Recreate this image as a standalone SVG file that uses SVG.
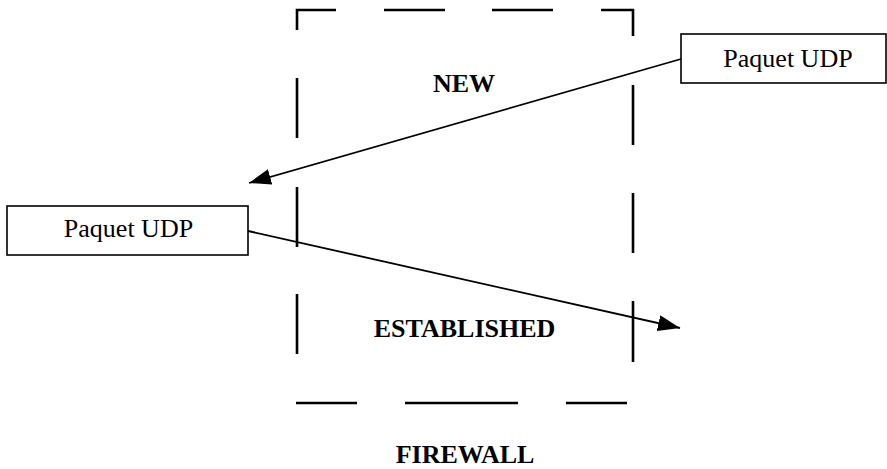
<svg xmlns="http://www.w3.org/2000/svg" width="887" height="469" viewBox="0 0 887 469">
<defs>
<style>
.box{fill:#fff;stroke:#000;stroke-width:1.6}
.lbl{font-family:"Liberation Serif","Times New Roman",serif;font-size:26px;fill:#000}
.bold{font-family:"Liberation Serif","Times New Roman",serif;font-size:26px;font-weight:bold;fill:#000}
.dash{fill:none;stroke:#000;stroke-width:2.6}
.conn{fill:none;stroke:#000;stroke-width:1.8;marker-end:url(#ah)}
</style>
<marker id="ah" viewBox="0 0 22 16" markerWidth="22" markerHeight="16" refX="22" refY="8" orient="auto" markerUnits="userSpaceOnUse">
<path d="M0,0 L22,8 L0,16 z" fill="#000"/>
</marker>
</defs>
<rect width="887" height="469" fill="#fff"/>
<g id="firewall">
<path class="dash" d="M297,30 V10 H336 M384,10 H445 M492,10 H553 M601,10 H633 V36 M297,78 V138 M297,187 V247 M297,294 V354 M633,85 V145 M633,193 V253 M633,301 V362 M296,403 H357 M405,403 H518 M566,403 H627"/>
<text class="bold" x="464" y="92" text-anchor="middle">NEW</text>
<text class="bold" x="464.5" y="337" text-anchor="middle">ESTABLISHED</text>
<text class="bold" x="465" y="463" text-anchor="middle">FIREWALL</text>
</g>
<g id="udp-right">
<rect class="box" x="681" y="34" width="205" height="49"/>
<text class="lbl" x="788" y="67" text-anchor="middle">Paquet UDP</text>
</g>
<g id="udp-left">
<rect class="box" x="7" y="206" width="241" height="49"/>
<text class="lbl" x="128.5" y="237" text-anchor="middle">Paquet UDP</text>
</g>
<g id="connectors">
<line class="conn" x1="681" y1="59" x2="249" y2="183"/>
<line class="conn" x1="248" y1="231" x2="680" y2="328"/>
</g>
</svg>
